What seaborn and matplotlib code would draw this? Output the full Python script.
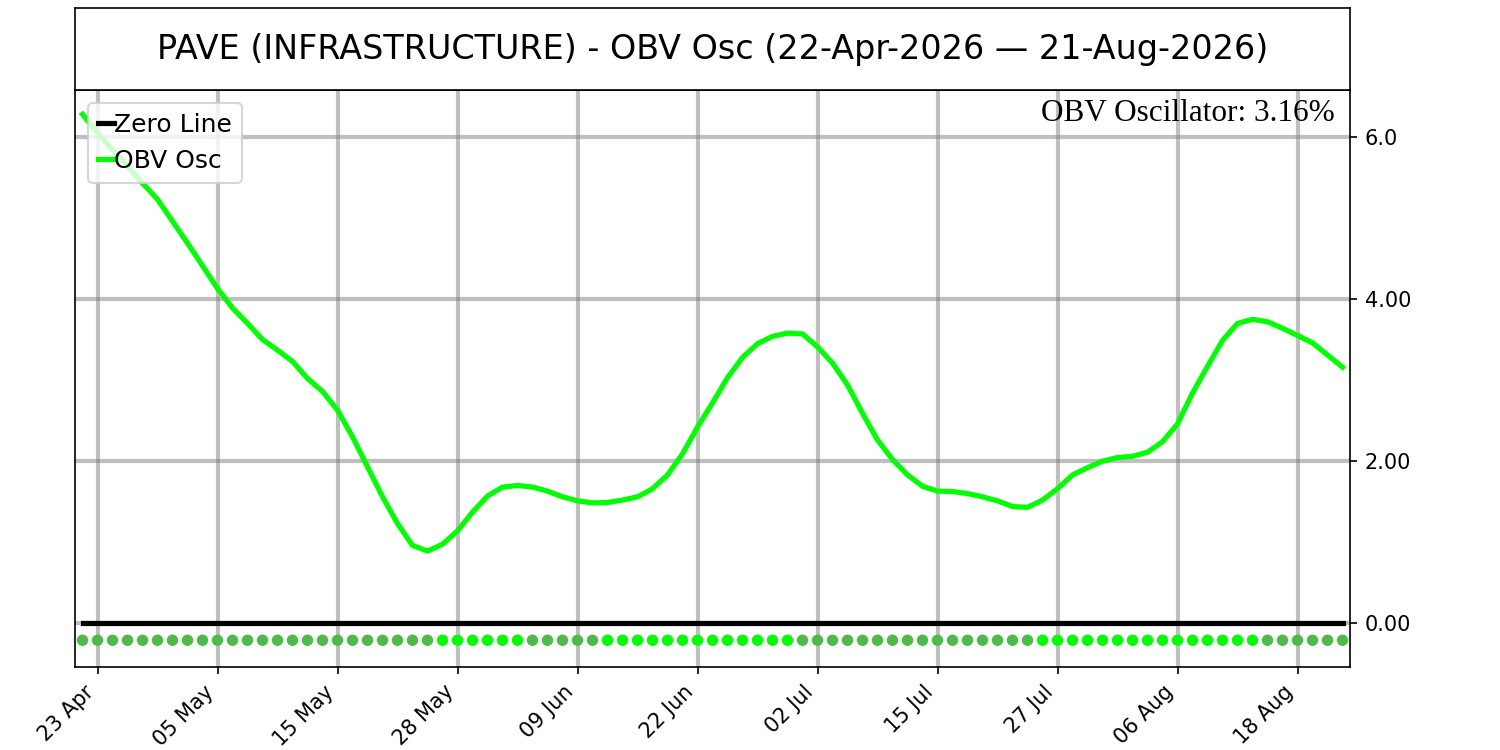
import matplotlib
matplotlib.use("Agg")
import matplotlib.pyplot as plt
import seaborn as sns
import numpy as np
import pandas as pd

# Données (une valeur par séance, 22 Apr -> 21 Aug 2026)
TITLE = "PAVE (INFRASTRUCTURE) - OBV Osc (22-Apr-2026 \u2014 21-Aug-2026)"
obv_osc = [
    6.28, 6.05, 5.84, 5.64, 5.43, 5.23, 4.96, 4.69, 4.41, 4.13,
    3.89, 3.70, 3.50, 3.37, 3.23, 3.02, 2.86, 2.63, 2.30, 1.93,
    1.56, 1.23, 0.96, 0.89, 0.975, 1.14, 1.37, 1.57, 1.68, 1.70,
    1.68, 1.63, 1.56, 1.51, 1.485, 1.49, 1.52, 1.56, 1.66, 1.83,
    2.09, 2.42, 2.72, 3.03, 3.28, 3.45, 3.54, 3.58, 3.57, 3.41,
    3.21, 2.94, 2.59, 2.26, 2.02, 1.83, 1.69, 1.63, 1.625, 1.60,
    1.56, 1.51, 1.44, 1.43, 1.52, 1.66, 1.83, 1.92, 2.00, 2.045,
    2.06, 2.11, 2.24, 2.46, 2.84, 3.17, 3.49, 3.70, 3.75, 3.72,
    3.64, 3.55, 3.46, 3.31, 3.16,
]
tick_idx = [1, 9, 17, 25, 33, 41, 49, 57, 65, 73, 81]
tick_labels = ["23 Apr", "05 May", "15 May", "28 May", "09 Jun", "22 Jun",
               "02 Jul", "15 Jul", "27 Jul", "06 Aug", "18 Aug"]
y_ticks = [0, 2, 4, 6]
y_tick_labels = ["0.00", "2.00", "4.00", "6.0"]
last_value = 3.16

COLOR_UP = "#00ff00"
COLOR_DOWN = "#4cbb47"

df = pd.DataFrame({"idx": np.arange(len(obv_osc)), "osc": obv_osc})
df["zero"] = 0.0
diff = df["osc"].diff().fillna(-1)
df["trend"] = np.where(diff > 0, "up", "down")
dot_level = -0.21

fig = plt.figure(figsize=(10, 5), dpi=150)
ax = fig.add_axes([75 / 1500, 83 / 750, 1275 / 1500, 577 / 750])
ax_title = fig.add_axes([75 / 1500, 660 / 750, 1275 / 1500, 82 / 750])

# Cadre du titre
ax_title.set_xticks([])
ax_title.set_yticks([])
ax_title.text(0.5, 0.5, TITLE, ha="center", va="center", fontsize=16,
              transform=ax_title.transAxes)

sns.lineplot(data=df, x="idx", y="zero", ax=ax, color="black", linewidth=2.5,
             label="Zero Line", zorder=3)
sns.lineplot(data=df, x="idx", y="osc", ax=ax, color=COLOR_UP, linewidth=2.5,
             label="OBV Osc", zorder=4)
sns.scatterplot(x=df["idx"], y=np.full(len(df), dot_level), hue=df["trend"],
                palette={"up": COLOR_UP, "down": COLOR_DOWN}, s=30,
                linewidth=0, ax=ax, legend=False, zorder=3)

ax.set_xlim(-0.5, len(obv_osc) - 0.5)
ax.set_ylim(-0.54, 6.58)
ax.set_xticks(tick_idx)
ax.set_xticklabels(tick_labels, rotation=45, ha="right", fontsize=10)
ax.set_yticks(y_ticks)
ax.set_yticklabels(y_tick_labels, fontsize=10)
ax.yaxis.tick_right()
ax.set_xlabel("")
ax.set_ylabel("")
ax.grid(True, color="gray", alpha=0.5, linewidth=2)
ax.set_axisbelow(True)

ax.text(0.988, 0.985, f"OBV Oscillator: {last_value:.2f}%", transform=ax.transAxes,
        ha="right", va="top", fontsize=15, family="Liberation Serif")

ax.legend(loc="upper left", fontsize=12, handlelength=0.65, handletextpad=0.0)

fig.savefig("out.png", dpi=150)
plt.close(fig)
